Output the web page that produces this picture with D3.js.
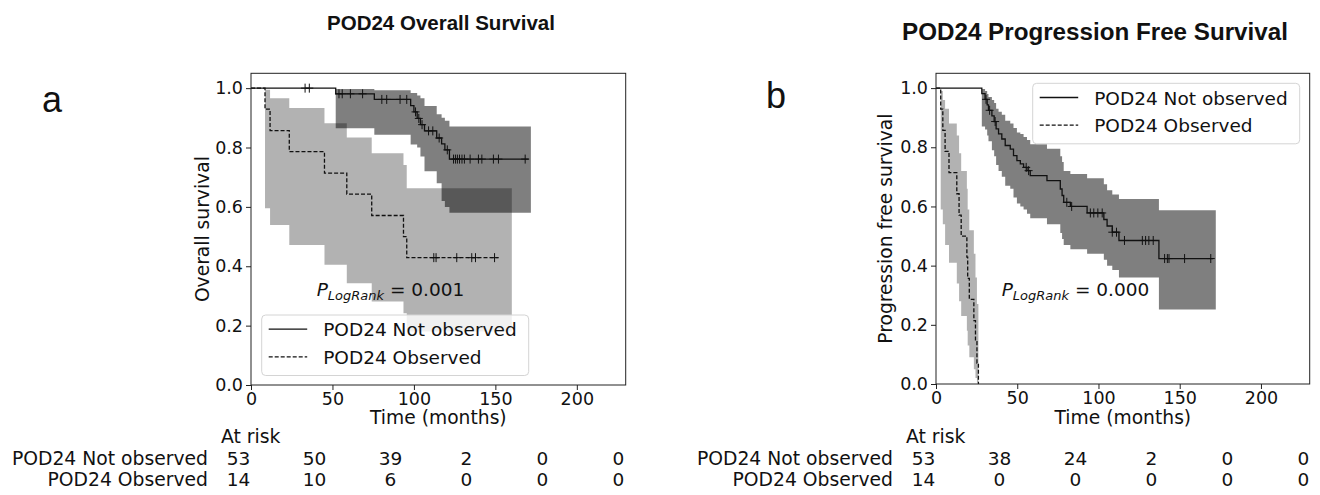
<!DOCTYPE html>
<html>
<head>
<meta charset="utf-8">
<script src="https://cdn.jsdelivr.net/npm/d3@7"></script>
<style>
body { margin: 0; background: #fff; }
</style>
</head>
<body>
<svg id="chart" width="1320" height="495"></svg>
<script>
"use strict";

var xTicks = [0, 50, 100, 150, 200];
var yTicks = [0, 0.2, 0.4, 0.6, 0.8, 1.0];
var groupNames = ["POD24 Not observed", "POD24 Observed"];

// a: overall survival, POD24 not observed
var osNotTimes = [52, 75.7, 98, 100, 102, 104, 106.5, 114, 117, 119, 121.8];
var osNotSurv = [0.981, 0.962, 0.941, 0.920, 0.898, 0.877, 0.856, 0.832, 0.812, 0.792, 0.761];
var osNotLower = [0.865, 0.843, 0.81, 0.81, 0.80, 0.77, 0.72, 0.68, 0.62, 0.60, 0.58];
var osNotUpper = [0.997, 0.993, 0.984, 0.984, 0.975, 0.966, 0.94, 0.912, 0.90, 0.89, 0.871];
var osNotCensor = [33.2, 35.8, 54, 56, 61, 68.5, 80.3, 83.3, 91.5, 95.6, 101, 103, 105, 109,
                   111.6, 115.5, 120.5, 124.3, 125.5, 126.7, 128, 129.5, 131, 134.5, 139.6,
                   141.7, 148.8, 151.9, 168.3];
var osNotEnd = [170.4, 171.8];   // line end, band end

// a: overall survival, POD24 observed
var osObsTimes = [8.6, 11.7, 23.5, 45.1, 58.8, 74.1, 93.6, 95.6];
var osObsSurv = [0.929, 0.857, 0.786, 0.714, 0.643, 0.571, 0.5, 0.429];
var osObsLower = [0.595, 0.539, 0.472, 0.405, 0.343, 0.281, 0.242, 0.18];
var osObsUpper = [0.995, 0.966, 0.933, 0.882, 0.834, 0.781, 0.741, 0.663];
var osObsCensor = [112.2, 113.6, 126.3, 135.5, 137.8, 149.5];
var osObsEnd = [151.9, 160.1];

// b: progression free survival, POD24 not observed
var pfsNotTimes = [28.2, 30.2, 31.5, 32.3, 34.4, 35.8, 37.0, 38.5, 40.5, 42.6, 45.7, 47.7, 49.8,
                   51.9, 53.9, 56.0, 58.0, 68.3, 76.5, 77.6, 78.6, 82.7, 93.0, 103.3, 105.3,
                   108.5, 112.6, 137.2];
var pfsNotSurv = [0.981, 0.962, 0.943, 0.925, 0.906, 0.887, 0.862, 0.845, 0.828, 0.806, 0.794,
                  0.772, 0.755, 0.744, 0.732, 0.721, 0.704, 0.687, 0.659, 0.637, 0.614, 0.600,
                  0.578, 0.556, 0.534, 0.513, 0.485, 0.424];
var pfsNotLower = [0.87, 0.86, 0.84, 0.82, 0.79, 0.77, 0.74, 0.72, 0.70, 0.67, 0.66, 0.63, 0.61,
                   0.60, 0.59, 0.575, 0.56, 0.54, 0.51, 0.49, 0.47, 0.455, 0.44, 0.42, 0.40,
                   0.385, 0.36, 0.252];
var pfsNotUpper = [0.997, 0.99, 0.98, 0.97, 0.96, 0.95, 0.93, 0.92, 0.91, 0.89, 0.88, 0.865,
                   0.85, 0.845, 0.835, 0.825, 0.81, 0.795, 0.77, 0.75, 0.72, 0.71, 0.695, 0.675,
                   0.655, 0.64, 0.625, 0.587];
var pfsNotCensor = [30.8, 33.0, 36.4, 55.5, 57.0, 80.5, 83.5, 95, 97.1, 99.6, 102.3, 108.5,
                    111.1, 116, 127, 129, 131, 133.7, 140.7, 142.4, 143.4, 153, 169.1];
var pfsNotEnd = [170.5, 172.2];

// b: progression free survival, POD24 observed
var pfsObsTimes = [2.9, 4.2, 5.6, 8.0, 12.8, 14.2, 15.5, 19.0, 19.5, 20.5, 23.3, 24.3, 25.2, 26.1];
var pfsObsSurv = [0.929, 0.857, 0.786, 0.714, 0.643, 0.571, 0.5, 0.429, 0.357, 0.286, 0.214,
                  0.143, 0.071, 0];
var pfsObsLower = [0.59, 0.54, 0.47, 0.41, 0.34, 0.28, 0.23, 0.18, 0.13, 0.09, 0.05, 0.02, 0.005, 0];
var pfsObsUpper = [0.99, 0.96, 0.93, 0.88, 0.84, 0.78, 0.72, 0.66, 0.59, 0.52, 0.44, 0.36, 0.27, 0];
var pfsObsCensor = [];
var pfsObsEnd = [26.1, 26.1];

// number at risk
var osRiskNot = [53, 50, 39, 2, 0, 0];
var osRiskObs = [14, 10, 6, 0, 0, 0];
var pfsRiskNot = [53, 38, 24, 2, 0, 0];
var pfsRiskObs = [14, 0, 0, 0, 0, 0];

var svg = d3.select("#chart");
var mainFont = "'DejaVu Sans', sans-serif";
var titleFont = "'Liberation Sans', Arial, sans-serif";

function survAt(times, surv, t) {
    var s = 1;
    for (var i = 0; i < times.length; i++) {
        if (times[i] <= t) s = surv[i];
    }
    return s;
}

function addText(sel, size) {
    return sel.append("text")
        .style("font-family", mainFont)
        .style("font-size", size + "px")
        .style("fill", "#111");
}

function drawPanel(p) {
    var g = svg.append("g");

    var x = d3.scaleLinear().domain([0, 230]).range([p.left, p.right]);
    var y = d3.scaleLinear().domain([0, 1.05]).range([p.bottom, p.top]);

    // confidence bands
    p.groups.forEach(function(grp) {
        var pts = grp.times.map(function(t, i) {
            return {t: t, lo: grp.lower[i], hi: grp.upper[i]};
        });
        var last = pts[pts.length - 1];
        pts.push({t: grp.end[1], lo: last.lo, hi: last.hi});
        g.append("path")
            .datum(pts)
            .attr("d", d3.area().curve(d3.curveStepAfter)
                .x(function(d) { return x(d.t); })
                .y0(function(d) { return y(d.lo); })
                .y1(function(d) { return y(d.hi); }))
            .attr("fill", "#000")
            .attr("fill-opacity", grp.alpha);
    });

    // survival curves and censor marks
    p.groups.forEach(function(grp) {
        var pts = [{t: 0, s: 1}];
        grp.times.forEach(function(t, i) { pts.push({t: t, s: grp.surv[i]}); });
        pts.push({t: grp.end[0], s: grp.surv[grp.surv.length - 1]});
        g.append("path")
            .datum(pts)
            .attr("d", d3.line().curve(d3.curveStepAfter)
                .x(function(d) { return x(d.t); })
                .y(function(d) { return y(d.s); }))
            .attr("fill", "none")
            .attr("stroke", "#111")
            .attr("stroke-width", 1.3)
            .attr("stroke-dasharray", grp.dash);

        g.selectAll(null)
            .data(grp.censor)
            .enter().append("path")
                .attr("d", function(c) {
                    var cx = x(c), cy = y(survAt(grp.times, grp.surv, c));
                    return "M" + (cx - 4) + "," + cy + "H" + (cx + 4) +
                           "M" + cx + "," + (cy - 4.5) + "V" + (cy + 4.5);
                })
                .attr("stroke", "#111")
                .attr("stroke-width", 1);
    });

    // spines
    g.append("rect")
        .attr("x", p.left).attr("y", p.top)
        .attr("width", p.right - p.left).attr("height", p.bottom - p.top)
        .attr("fill", "none").attr("stroke", "#222").attr("stroke-width", 1);

    var yAxis = g.append("g")
        .attr("transform", "translate(" + p.left + ",0)")
        .call(d3.axisLeft(y).tickValues(yTicks).tickFormat(d3.format(".1f"))
              .tickSize(5).tickPadding(3));
    var xAxis = g.append("g")
        .attr("transform", "translate(0," + p.bottom + ")")
        .call(d3.axisBottom(x).tickValues(xTicks).tickSize(5).tickPadding(3));
    [yAxis, xAxis].forEach(function(a) {
        a.select(".domain").remove();
        a.selectAll("line").attr("stroke", "#222");
        a.selectAll("text")
            .style("font-size", "17.5px")
            .style("font-family", mainFont)
            .style("fill", "#111");
    });

    // axis labels
    addText(g, 18.7)
        .attr("transform", "translate(" + p.yLabelX + "," + ((p.top + p.bottom) / 2) + ") rotate(-90)")
        .attr("text-anchor", "middle")
        .text(p.yLabel);
    addText(g, 18.7)
        .attr("x", (p.left + p.right) / 2).attr("y", 424)
        .attr("text-anchor", "middle")
        .text("Time (months)");

    // p value
    var pv = addText(g, 18.5).attr("x", p.pX).attr("y", 296);
    pv.append("tspan").style("font-style", "italic").text("P");
    pv.append("tspan").style("font-style", "italic").style("font-size", "13px")
        .attr("dy", 4).text("LogRank");
    pv.append("tspan").attr("dy", -4).text(" = " + p.pValue);

    // legend
    var lg = g.append("g").attr("transform", "translate(" + p.legX + "," + p.legY + ")");
    lg.append("rect")
        .attr("width", 267).attr("height", 60.5).attr("rx", 4)
        .attr("fill", "#fff").attr("fill-opacity", 0.8)
        .attr("stroke", "#d4d4d4").attr("stroke-width", 1);
    p.groups.forEach(function(grp, i) {
        lg.append("line")
            .attr("x1", 7).attr("x2", 45.5)
            .attr("y1", 14.2 + i * 27.6).attr("y2", 14.2 + i * 27.6)
            .attr("stroke", "#111").attr("stroke-width", 1.3)
            .attr("stroke-dasharray", grp.dash);
        addText(lg, 18.5)
            .attr("x", 61.5).attr("y", 21.4 + i * 27.6)
            .text(grp.name);
    });

    // at risk table
    var col = d3.scaleLinear().domain([0, 5]).range([p.left - 12.5, p.left + 367.5]);
    addText(g, 18.8)
        .attr("x", p.left - 30).attr("y", 443)
        .text("At risk");
    p.groups.forEach(function(grp, i) {
        addText(g, 18.75)
            .attr("x", p.left - 43).attr("y", 465 + i * 21)
            .attr("text-anchor", "end")
            .text(grp.name);
        g.selectAll(null)
            .data(grp.risk)
            .enter().append("text")
                .style("font-family", mainFont)
                .style("font-size", "18.5px")
                .style("fill", "#111")
                .attr("x", function(d, j) { return col(j); })
                .attr("y", 465 + i * 21)
                .attr("text-anchor", "middle")
                .text(function(d) { return d; });
    });

    // title and panel letter
    svg.append("text")
        .attr("x", p.titleX).attr("y", p.titleY)
        .attr("text-anchor", "middle")
        .style("font-family", titleFont)
        .style("font-weight", "bold")
        .style("font-size", p.titleSize + "px")
        .style("fill", "#111")
        .text(p.title);
    svg.append("text")
        .attr("x", p.letterX).attr("y", p.letterY)
        .style("font-family", titleFont)
        .style("font-size", "36px")
        .style("fill", "#111")
        .text(p.letter);
}

drawPanel({
    left: 251, right: 625.7, top: 73.3, bottom: 385,
    yLabel: "Overall survival", yLabelX: 208.5,
    pValue: "0.001", pX: 316.7,
    legX: 261.7, legY: 315,
    title: "POD24 Overall Survival", titleX: 441, titleY: 29.5, titleSize: 20.5,
    letter: "a", letterX: 42, letterY: 112,
    groups: [
        {name: groupNames[0], times: osNotTimes, surv: osNotSurv, lower: osNotLower,
         upper: osNotUpper, censor: osNotCensor, end: osNotEnd, risk: osRiskNot,
         alpha: 0.5, dash: null},
        {name: groupNames[1], times: osObsTimes, surv: osObsSurv, lower: osObsLower,
         upper: osObsUpper, censor: osObsCensor, end: osObsEnd, risk: osRiskObs,
         alpha: 0.3, dash: "4,2"}
    ]
});

drawPanel({
    left: 936, right: 1309.7, top: 73.3, bottom: 384,
    yLabel: "Progression free survival", yLabelX: 891.5,
    pValue: "0.000", pX: 1001.7,
    legX: 1032.7, legY: 83.3,
    title: "POD24 Progression Free Survival", titleX: 1095, titleY: 40, titleSize: 24.2,
    letter: "b", letterX: 766, letterY: 108,
    groups: [
        {name: groupNames[0], times: pfsNotTimes, surv: pfsNotSurv, lower: pfsNotLower,
         upper: pfsNotUpper, censor: pfsNotCensor, end: pfsNotEnd, risk: pfsRiskNot,
         alpha: 0.5, dash: null},
        {name: groupNames[1], times: pfsObsTimes, surv: pfsObsSurv, lower: pfsObsLower,
         upper: pfsObsUpper, censor: pfsObsCensor, end: pfsObsEnd, risk: pfsRiskObs,
         alpha: 0.3, dash: "4,2"}
    ]
});
</script>
</body>
</html>
